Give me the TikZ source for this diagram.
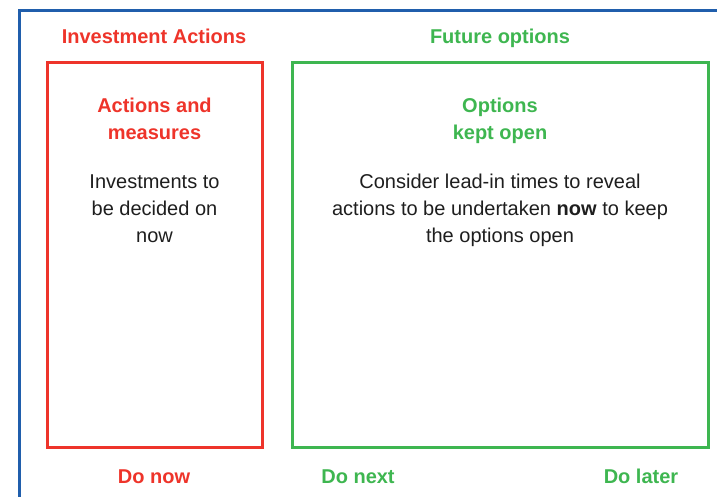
\documentclass[tikz,border=0pt]{standalone}
\usepackage{fontspec}
\setmainfont{Liberation Sans}
\definecolor{cred}{RGB}{238,52,42}
\definecolor{cgreen}{RGB}{62,182,80}
\definecolor{cblue}{RGB}{32,94,172}
\definecolor{ctext}{RGB}{30,30,30}
\begin{document}
\begin{tikzpicture}[x=1pt,y=-1pt,
  box/.style={draw,line width=3pt,inner sep=0pt,minimum width=#1,minimum height=385.5pt},
  head/.style={anchor=base,inner sep=0pt,align=center,font=\fontsize{20}{27}\selectfont\bfseries},
  body/.style={anchor=base,inner sep=0pt,align=center,text=ctext,font=\fontsize{20}{27}\selectfont}]
\useasboundingbox (0,0) rectangle (717,496);
\coordinate (fb) at (19.5,497);
\coordinate (fl) at (19.5,10.5);
\coordinate (fr) at (718,10.5);
\draw[cblue,line width=3pt] (fb) -- (fl) -- (fr);
\node[box=215pt,draw=cred] (redbox) at (154.5,254.75) {};
\node[box=416pt,draw=cgreen] (greenbox) at (500,254.75) {};
\node[head,text=cred] (ia) at (154,43) {Investment Actions};
\node[head,text=cgreen] (fo) at (500,43) {Future options};
\node[head,text=cred] (am) at (154.5,139) {Actions and\\measures};
\node[head,text=cgreen] (ok) at (500,139) {Options\\kept open};
\node[body] (inv) at (154.5,242) {Investments to\\be decided on\\now};
\node[body] (con) at (500,242) {Consider lead-in times to reveal\\actions to be undertaken \textbf{now} to keep\\the options open};
\node[head,text=cred] (dn) at (154,483) {Do now};
\node[head,text=cgreen] (dx) at (358,483) {Do next};
\node[head,text=cgreen] (dl) at (641,483) {Do later};
\end{tikzpicture}
\end{document}
